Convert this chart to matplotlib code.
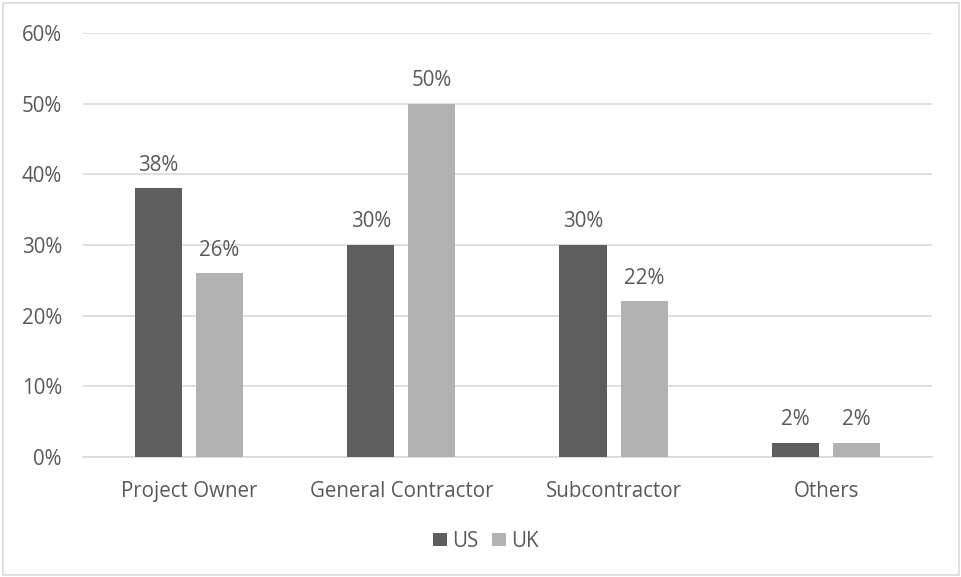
import numpy as np
import matplotlib.pyplot as plt
from matplotlib.patches import Rectangle

# Share of respondents by role
categories = ['Project Owner', 'General Contractor', 'Subcontractor', 'Others']
us_values = [38, 30, 30, 2]
uk_values = [26, 50, 22, 2]
y_ticks = [0, 10, 20, 30, 40, 50, 60]

text_col = '#595959'
grid_col = '#d9d9d9'
us_col = '#5e5e5e'
uk_col = '#b2b2b2'
fs = 14.8

plt.rcParams['font.family'] = ['Open Sans', 'DejaVu Sans']

fig = plt.figure(figsize=(9.62, 5.77), dpi=100)
fig.patches.append(Rectangle((0.003, 0.004), 0.994, 0.99, transform=fig.transFigure,
                             fill=False, edgecolor=grid_col, linewidth=1.2))

ax = fig.add_axes([0.086, 0.208, 0.883, 0.735])

x = np.arange(len(categories))
w = 0.222
off = 0.144
b1 = ax.bar(x - off, us_values, w, color=us_col, label='US', zorder=3)
b2 = ax.bar(x + off, uk_values, w, color=uk_col, label='UK', zorder=3)

# value labels above each bar
for bars, vals in ((b1, us_values), (b2, uk_values)):
    for b, v in zip(bars, vals):
        ax.annotate('{}%'.format(v), (b.get_x() + b.get_width() / 2, v),
                    xytext=(0, 23), textcoords='offset pixels',
                    ha='center', va='center', fontsize=fs, color=text_col)

ax.set_xlim(-0.5, len(categories) - 0.5)
ax.set_ylim(0, 60)
ax.set_yticks(y_ticks)
ax.set_yticklabels(['{}%'.format(t) for t in y_ticks])
ax.set_xticks(x)
ax.set_xticklabels(categories)
ax.tick_params(axis='both', length=0, labelsize=fs, colors=text_col)
ax.tick_params(axis='x', pad=17)
ax.tick_params(axis='y', pad=15)
for s in ax.spines.values():
    s.set_visible(False)
ax.spines['bottom'].set_visible(True)
ax.spines['bottom'].set_color(grid_col)
ax.spines['bottom'].set_linewidth(1.2)
ax.yaxis.grid(True, color=grid_col, linewidth=1.2, zorder=0)
ax.set_axisbelow(True)

leg = fig.legend(loc='center', bbox_to_anchor=(0.505, 0.062), ncol=2, frameon=False,
                 fontsize=fs, handlelength=0.65, handleheight=0.65, handletextpad=0.25,
                 columnspacing=0.7)
for t in leg.get_texts():
    t.set_color(text_col)

fig.savefig('out.png', dpi=100)
